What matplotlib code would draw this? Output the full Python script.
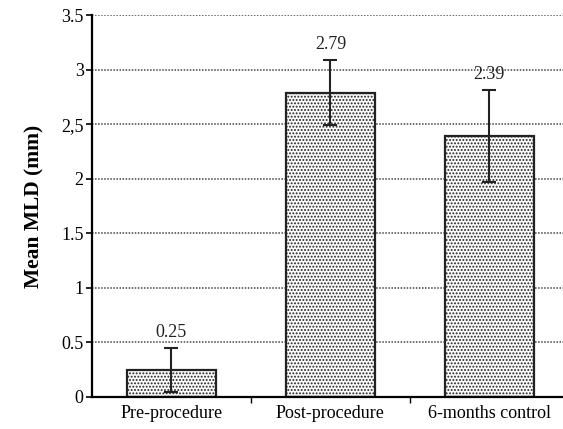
import matplotlib
matplotlib.use("Agg")
from matplotlib import pyplot as plt
import numpy as np

categories = ["Pre-procedure", "Post-procedure", "6-months control"]
means = [0.25, 2.79, 2.39]
errors = [0.2, 0.3, 0.42]
value_labels = ["0.25", "2.79", "2.39"]
y_ticks = [0, 0.5, 1, 1.5, 2, 2.5, 3, 3.5]
y_tick_labels = ["0", "0.5", "1", "1.5", "2", "2,5", "3", "3.5"]

plt.rcParams['font.family'] = ['Liberation Serif', 'DejaVu Serif']
plt.rcParams['hatch.color'] = '#a8a8a8'
plt.rcParams['hatch.linewidth'] = 0.9

fig = plt.figure(figsize=(5.63, 4.29), dpi=100)
ax = fig.add_axes([0.1634, 0.0746, 0.847, 0.8904])

x = np.arange(len(categories))
ax.bar(x, means, width=0.56, color='#fafafa', edgecolor='#222222',
       linewidth=1.6, hatch='.....', zorder=2)
ax.errorbar(x, means, yerr=errors, fmt='none', ecolor='#222222',
            elinewidth=1.5, capsize=5, capthick=1.5, zorder=3)

for xi, m, e, lab in zip(x, means, errors, value_labels):
    ax.annotate(lab, (xi, m + e), xytext=(0, 5), textcoords='offset points',
                ha='center', va='bottom', fontsize=13, color='#222222')

ax.set_xlim(-0.5, 2.5)
ax.set_ylim(0, 3.5)
ax.set_yticks(y_ticks)
ax.set_yticklabels(y_tick_labels, fontsize=13)
ax.set_xticks(x)
ax.set_xticklabels(categories, fontsize=13)
ax.set_xticks([0.5, 1.5], minor=True)
ax.tick_params(axis='x', which='major', length=0, pad=6)
ax.tick_params(axis='x', which='minor', length=4, width=1, direction='out')
ax.tick_params(axis='y', length=4, width=1.2, direction='out', pad=2)

ax.yaxis.grid(True, linestyle=(0, (1.0, 1.0)), color='#444444', linewidth=1.1, zorder=0)
ax.set_axisbelow(True)

for s in ['top', 'right']:
    ax.spines[s].set_visible(False)
ax.spines['left'].set_linewidth(1.6)
ax.spines['bottom'].set_linewidth(1.6)

ax.set_ylabel("Mean MLD (mm)", fontsize=15.5, fontweight='bold', labelpad=12)

fig.savefig("out.png", dpi=100)
